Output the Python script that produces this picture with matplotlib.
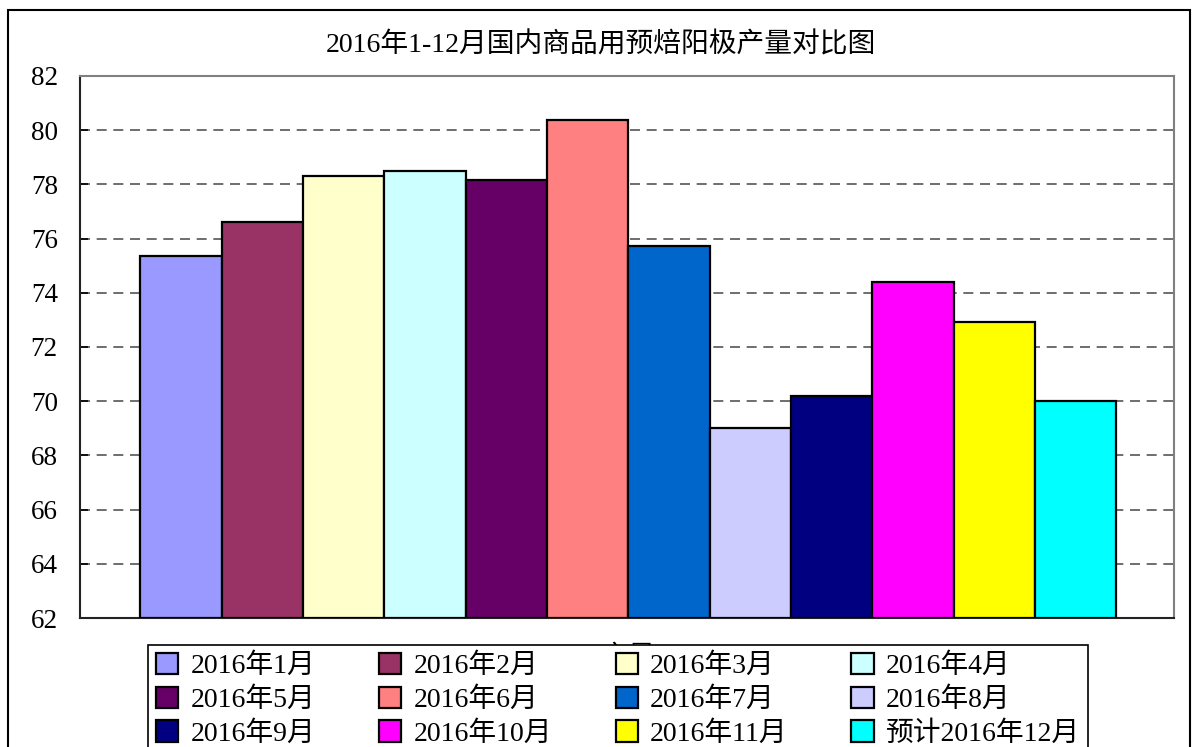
import numpy as np
import matplotlib
matplotlib.use("Agg")
import matplotlib.pyplot as plt
from matplotlib.patches import Rectangle

plt.rcParams['font.family'] = ['Liberation Serif', 'Noto Sans CJK SC', 'DejaVu Sans']

title = "2016年1-12月国内商品用预焙阳极产量对比图"
months = ["2016年1月", "2016年2月", "2016年3月", "2016年4月",
          "2016年5月", "2016年6月", "2016年7月", "2016年8月",
          "2016年9月", "2016年10月", "2016年11月", "预计2016年12月"]
output = [75.35, 76.6, 78.3, 78.5, 78.15, 80.38, 75.72, 69.02, 70.2, 74.4, 72.92, 70.0]
colors = ["#9999FF", "#993366", "#FFFFCC", "#CCFFFF", "#660066", "#FF8080",
          "#0066CC", "#CCCCFF", "#000080", "#FF00FF", "#FFFF00", "#00FFFF"]
yticks = [62, 64, 66, 68, 70, 72, 74, 76, 78, 80, 82]

W, H = 1198, 747
fig = plt.figure(figsize=(W / 100, H / 100), dpi=100)
ax = fig.add_axes([80 / W, 1 - 618 / H, (1174 - 80) / W, (618 - 76) / H])

x = np.arange(len(output))
handles = []
for i, v in enumerate(output):
    b = ax.bar(x[i], v - yticks[0], bottom=yticks[0], width=1.0, color=colors[i],
               edgecolor="black", linewidth=1.6, label=months[i], zorder=3)
    handles.append(b)

ax.set_ylim(yticks[0], yticks[-1])
ax.set_xlim(-1.24, 12.21)
ax.set_yticks(yticks)
ax.set_xticks([])
ax.tick_params(axis="y", direction="in", length=6, labelsize=19.5, pad=16, width=1.2)
ax.yaxis.grid(True, linestyle=(0, (6, 4)), color="#555555", linewidth=1.2, zorder=1)
ax.set_axisbelow(True)
for s in ["left", "bottom"]:
    ax.spines[s].set_color("#222222")
    ax.spines[s].set_linewidth(1.5)
for s in ["top", "right"]:
    ax.spines[s].set_color("#808080")
    ax.spines[s].set_linewidth(1.5)

fig.text(601 / W, 1 - 45 / H, title, ha="center", va="center", fontsize=20)

# category label, mostly hidden behind the legend
fig.text(628 / W, 1 - 658 / H, "产量", ha="center", va="center", fontsize=20, zorder=1)

# outer chart border
fig.add_artist(Rectangle((8 / W, -0.02), (1190 - 8) / W, 1 - 10 / H + 0.02,
                         transform=fig.transFigure, fill=False,
                         edgecolor="black", linewidth=1.5))

# legend fills row by row, matplotlib fills columns, so reorder
ncol = 4
nrow = len(months) // ncol
order = [r * ncol + c for c in range(ncol) for r in range(nrow)]
leg = fig.legend(handles=[handles[k] for k in order], labels=[months[k] for k in order],
                 ncol=ncol, loc="upper left",
                 bbox_to_anchor=(148 / W, 1 - 645 / H - 0.3, (1088 - 148) / W, 0.3),
                 mode="expand", fontsize=20, frameon=True, fancybox=False, framealpha=1,
                 edgecolor="black", handlelength=0.8, handleheight=0.8,
                 handletextpad=0.45, labelspacing=0.27, borderpad=0.28,
                 borderaxespad=0, columnspacing=1.0)
leg.get_frame().set_linewidth(1.2)
leg.set_zorder(5)

fig.savefig("out.png", dpi=100)
